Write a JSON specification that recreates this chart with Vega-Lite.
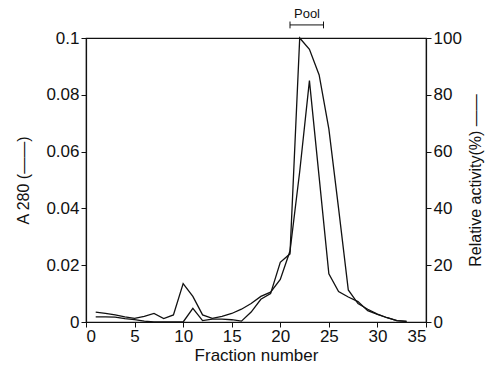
{
  "$schema": "https://vega.github.io/schema/vega-lite/v6.json",
  "width": 340,
  "height": 284,
  "autosize": {"type": "none"},
  "padding": {"left": 86, "top": 38, "right": 70, "bottom": 48},
  "background": "white",
  "config": {
    "font": "Liberation Sans",
    "view": {"stroke": "#111", "strokeWidth": 1.2},
    "axis": {
      "grid": false,
      "domainColor": "#111",
      "domainWidth": 1.2,
      "tickColor": "#111",
      "tickSize": 5,
      "labelColor": "#111",
      "titleColor": "#111",
      "labelFont": "Liberation Sans",
      "titleFont": "Liberation Sans",
      "labelFontSize": 17,
      "titleFontSize": 16,
      "titleFontWeight": "normal"
    }
  },
  "datasets": {
    "a280": [
      {"fraction": 1, "a280": 0.0035},
      {"fraction": 2, "a280": 0.003},
      {"fraction": 3, "a280": 0.0025},
      {"fraction": 4, "a280": 0.0018},
      {"fraction": 5, "a280": 0.0013},
      {"fraction": 6, "a280": 0.002},
      {"fraction": 7, "a280": 0.003},
      {"fraction": 8, "a280": 0.0012},
      {"fraction": 9, "a280": 0.0025},
      {"fraction": 10, "a280": 0.0135},
      {"fraction": 11, "a280": 0.009},
      {"fraction": 12, "a280": 0.0025},
      {"fraction": 13, "a280": 0.0013},
      {"fraction": 14, "a280": 0.002},
      {"fraction": 15, "a280": 0.003},
      {"fraction": 16, "a280": 0.0045},
      {"fraction": 17, "a280": 0.0065},
      {"fraction": 18, "a280": 0.009},
      {"fraction": 19, "a280": 0.0105},
      {"fraction": 20, "a280": 0.015},
      {"fraction": 21, "a280": 0.025},
      {"fraction": 22, "a280": 0.053},
      {"fraction": 23, "a280": 0.085},
      {"fraction": 24, "a280": 0.051},
      {"fraction": 25, "a280": 0.017},
      {"fraction": 26, "a280": 0.0107},
      {"fraction": 27, "a280": 0.0088},
      {"fraction": 28, "a280": 0.0072},
      {"fraction": 29, "a280": 0.004},
      {"fraction": 30, "a280": 0.0027},
      {"fraction": 31, "a280": 0.0015},
      {"fraction": 32, "a280": 0.0005},
      {"fraction": 33, "a280": 0.0002}
    ],
    "activity": [
      {"fraction": 1, "activity": 1.8},
      {"fraction": 2, "activity": 1.8},
      {"fraction": 3, "activity": 1.7},
      {"fraction": 4, "activity": 1.2},
      {"fraction": 5, "activity": 0.8},
      {"fraction": 6, "activity": 0.3},
      {"fraction": 7, "activity": 0},
      {"fraction": 8, "activity": 0},
      {"fraction": 9, "activity": 0},
      {"fraction": 10, "activity": 0},
      {"fraction": 11, "activity": 4.8},
      {"fraction": 12, "activity": 0.5},
      {"fraction": 13, "activity": 1},
      {"fraction": 14, "activity": 1},
      {"fraction": 15, "activity": 0.8},
      {"fraction": 16, "activity": 0.3},
      {"fraction": 17, "activity": 3.5},
      {"fraction": 18, "activity": 8},
      {"fraction": 19, "activity": 10},
      {"fraction": 20, "activity": 21},
      {"fraction": 21, "activity": 24},
      {"fraction": 22, "activity": 100},
      {"fraction": 23, "activity": 96},
      {"fraction": 24, "activity": 87},
      {"fraction": 25, "activity": 68},
      {"fraction": 26, "activity": 40},
      {"fraction": 27, "activity": 11.3},
      {"fraction": 28, "activity": 6.5},
      {"fraction": 29, "activity": 4.5},
      {"fraction": 30, "activity": 2.8},
      {"fraction": 31, "activity": 1.5},
      {"fraction": 32, "activity": 0.5},
      {"fraction": 33, "activity": 0.2}
    ],
    "pool": [
      {"start": 21, "end": 24.45, "level": 0.1046, "low": 0.1034, "high": 0.1058, "mid": 22.75, "labelY": 0.1085, "label": "Pool"}
    ]
  },
  "layer": [
    {
      "layer": [
        {
          "data": {"name": "a280"},
          "mark": {"type": "line", "color": "#111", "strokeWidth": 1.3, "clip": false},
          "encoding": {
            "x": {
              "field": "fraction", "type": "quantitative",
              "scale": {"domain": [0, 35], "nice": false},
              "axis": {"values": [0, 5, 10, 15, 20, 25, 30, 35], "title": "Fraction number", "titleFontSize": 17, "labelPadding": 1, "titlePadding": 3}
            },
            "y": {
              "field": "a280", "type": "quantitative",
              "scale": {"domain": [0, 0.1], "nice": false, "zero": true},
              "axis": {"values": [0, 0.02, 0.04, 0.06, 0.08, 0.1], "format": "~g", "title": "A 280 (——)", "labelPadding": 2, "titlePadding": 14}
            }
          }
        },
        {
          "data": {"name": "pool"},
          "mark": {"type": "rule", "color": "#111", "strokeWidth": 1, "clip": false},
          "encoding": {
            "x": {"field": "start", "type": "quantitative"},
            "x2": {"field": "end"},
            "y": {"field": "level", "type": "quantitative"}
          }
        },
        {
          "data": {"name": "pool"},
          "mark": {"type": "rule", "color": "#111", "strokeWidth": 1, "clip": false},
          "encoding": {
            "x": {"field": "start", "type": "quantitative"},
            "y": {"field": "low", "type": "quantitative"},
            "y2": {"field": "high"}
          }
        },
        {
          "data": {"name": "pool"},
          "mark": {"type": "rule", "color": "#111", "strokeWidth": 1, "clip": false},
          "encoding": {
            "x": {"field": "end", "type": "quantitative"},
            "y": {"field": "low", "type": "quantitative"},
            "y2": {"field": "high"}
          }
        },
        {
          "data": {"name": "pool"},
          "mark": {"type": "text", "color": "#111", "fontSize": 13, "font": "Liberation Sans", "baseline": "middle", "clip": false},
          "encoding": {
            "x": {"field": "mid", "type": "quantitative"},
            "y": {"field": "labelY", "type": "quantitative"},
            "text": {"field": "label"}
          }
        }
      ]
    },
    {
      "data": {"name": "activity"},
      "mark": {"type": "line", "color": "#111", "strokeWidth": 1.3, "clip": false},
      "encoding": {
        "x": {"field": "fraction", "type": "quantitative"},
        "y": {
          "field": "activity", "type": "quantitative",
          "scale": {"domain": [0, 100], "nice": false},
          "axis": {"orient": "right", "values": [0, 20, 40, 60, 80, 100], "title": "Relative activity(%) ——", "titleAngle": -90, "labelPadding": 2, "titlePadding": 22}
        }
      }
    }
  ],
  "resolve": {"scale": {"y": "independent"}}
}
